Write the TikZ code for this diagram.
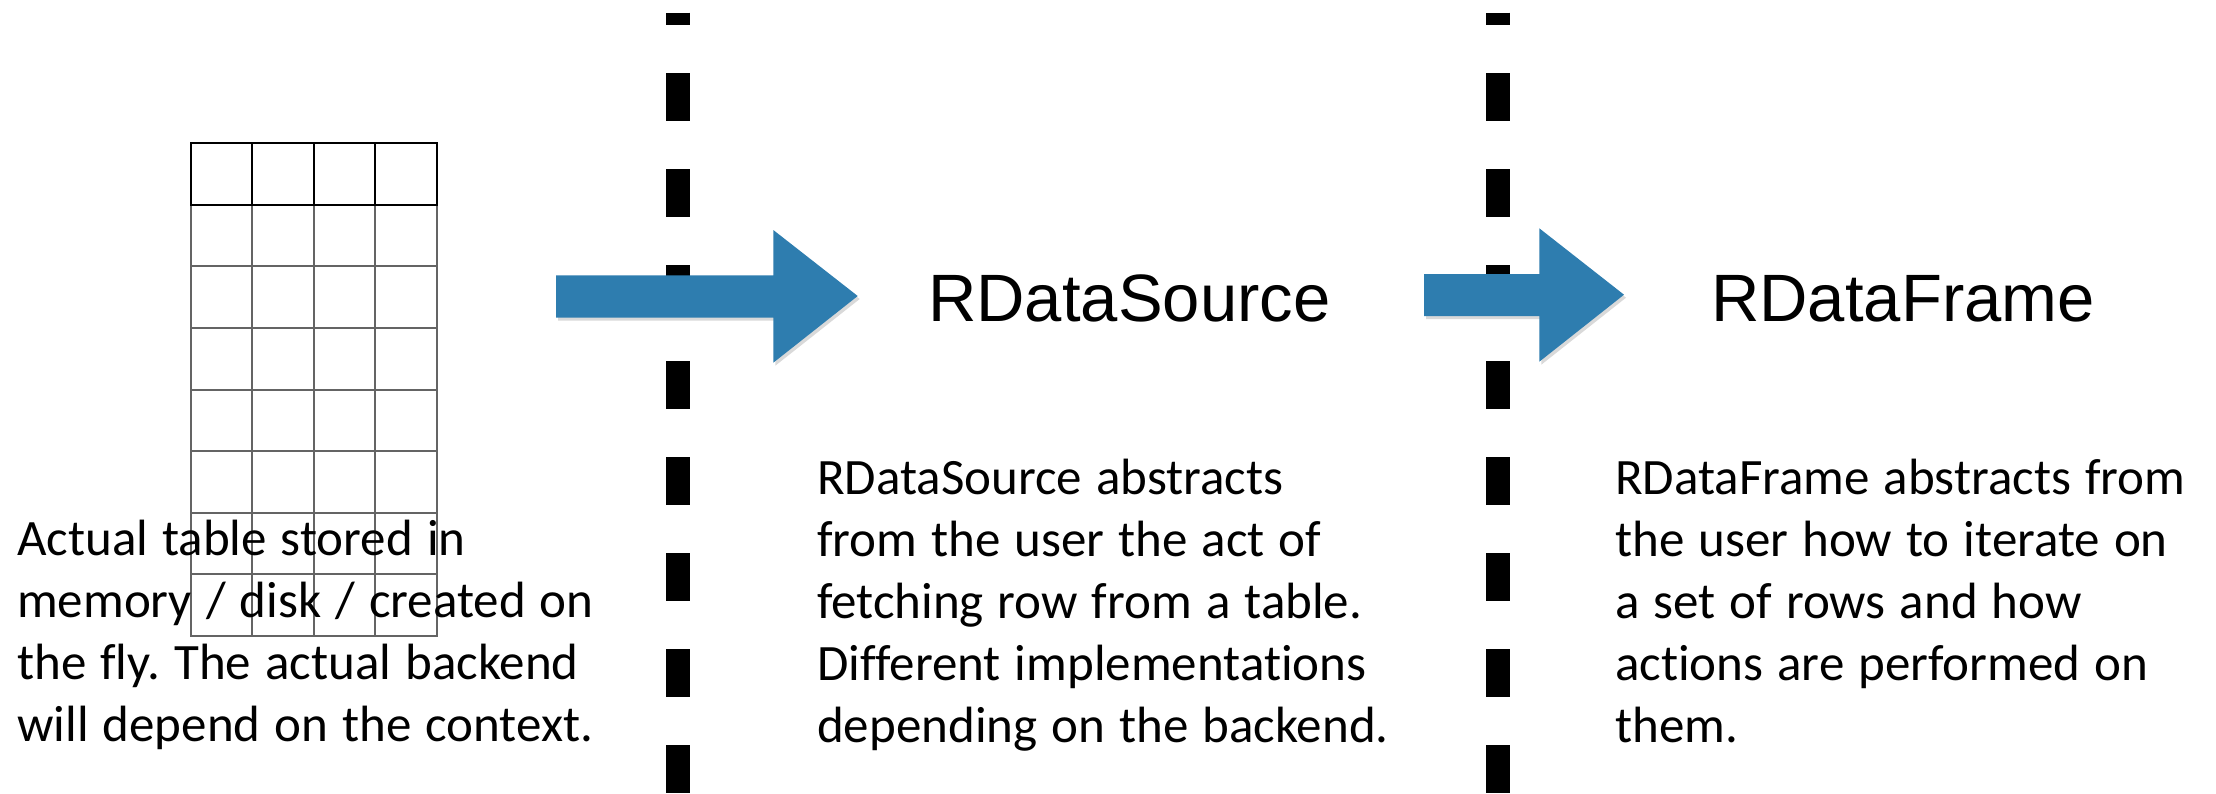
\documentclass[tikz,border=0pt]{standalone}
\usepackage{fontspec}
\setmainfont[Ligatures=NoCommon]{Carlito}
\newfontfamily\titlefont{Liberation Sans}
\usetikzlibrary{shadows}
\definecolor{arrowblue}{RGB}{46,125,175}
\definecolor{gridgray}{RGB}{100,100,100}
\newcommand\tightspace{\spaceskip=14pt\relax}
\tikzset{
  sep/.style={line width=24pt, dash pattern=on 48pt off 48pt, dash phase=35.7pt, line cap=butt, black},
  blockarrow/.style={fill=arrowblue, drop shadow={shadow xshift=2pt, shadow yshift=-3pt, opacity=0.3}},
  headgrid/.style={draw=black, line width=2pt},
  bodygrid/.style={draw=gridgray, line width=2pt},
  title/.style={anchor=base west, inner sep=0pt, font=\titlefont\fontsize{67}{80}\selectfont},
  body/.style={anchor=base west, inner sep=0pt, text width=700pt, align=left, font=\fontsize{51}{62}\selectfont}
}
\begin{document}
\frenchspacing
\begin{tikzpicture}[x=1pt, y=-1pt]
\useasboundingbox (0,0) rectangle (2216,793);
% dashed separators
\coordinate (s1top) at (678,12.7);
\coordinate (s1bot) at (678,793);
\coordinate (s2top) at (1498,12.7);
\coordinate (s2bot) at (1498,793);
\draw[sep] (s1top) -- (s1bot);
\draw[sep] (s2top) -- (s2bot);
% table grid
\foreach \r in {1,...,7} {
  \foreach \c in {0,...,3} {
    \draw[bodygrid] ({190.7+61.5*\c},{143.3+61.57*\r}) rectangle ({190.7+61.5*(\c+1)},{143.3+61.57*(\r+1)});
  }
}
\foreach \c in {0,...,3} {
  \draw[headgrid] ({190.7+61.5*\c},143.3) rectangle ({190.7+61.5*(\c+1)},205);
}
% block arrows
\path[blockarrow] (556,275.3) -- (773.3,275.3) -- (773.3,230) -- (857.7,296) -- (773.3,362.7) -- (773.3,317.7) -- (556,317.7) -- cycle;
\path[blockarrow] (1424,274) -- (1539.3,274) -- (1539.3,228.3) -- (1624,294.7) -- (1539.3,361.7) -- (1539.3,316) -- (1424,316) -- cycle;
% titles
\node[title] (rds) at (928,321) {RDataSource};
\node[title] (rdf) at (1711,321) {RDataFrame};
% descriptions
\node[body] (tabletext) at (17,555) {\tightspace Actual table stored in\\memory / disk / created on\\the fly. The actual backend\\will depend on the context.};
\node[body] (rdstext) at (817,494) {\tightspace RDataSource abstracts\\from the user the act of\\fetching row from a table.\\Different implementations\\depending on the backend.};
\node[body] (rdftext) at (1615,494) {\tightspace RDataFrame abstracts from\\the user how to iterate on\\a set of rows and how\\actions are performed on\\them.};
\end{tikzpicture}
\end{document}
